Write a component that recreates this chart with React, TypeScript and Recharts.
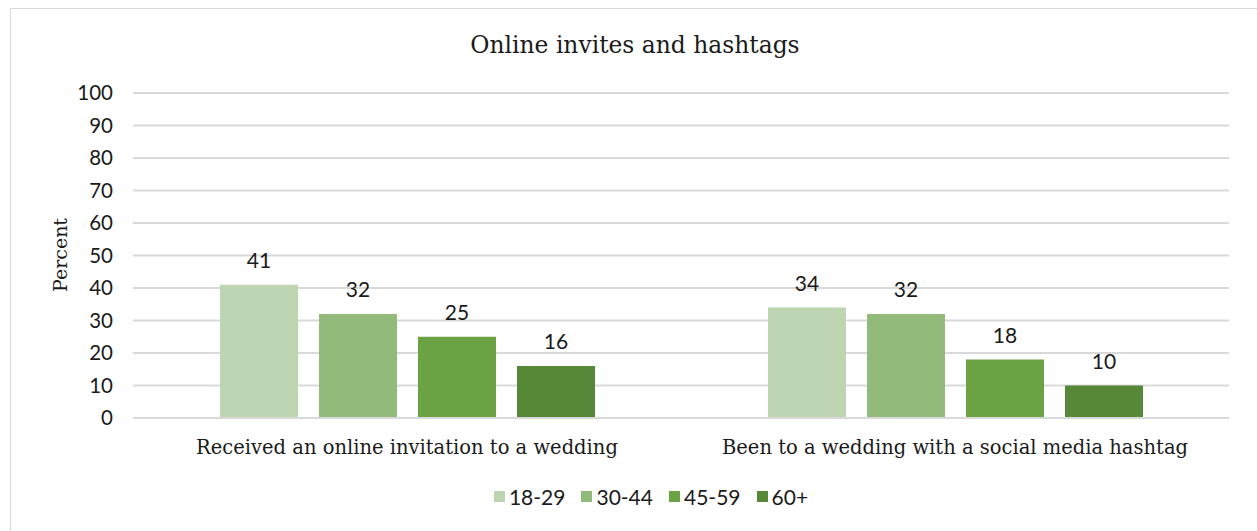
import React from "react";
import { Bar, BarChart, CartesianGrid, LabelList, Legend, XAxis, YAxis } from "recharts";

// categories and series values
const categories = [
	"Received an online invitation to a wedding",
	"Been to a wedding with a social media hashtag",
];
const age18to29 = [41, 34];
const age30to44 = [32, 32];
const age45to59 = [25, 18];
const age60plus = [16, 10];
const yTicks = [0, 10, 20, 30, 40, 50, 60, 70, 80, 90, 100];

const series = [
	{ key: "18-29", values: age18to29, color: "#bdd5b1" },
	{ key: "30-44", values: age30to44, color: "#92bb7b" },
	{ key: "45-59", values: age45to59, color: "#6aa244" },
	{ key: "60+", values: age60plus, color: "#578837" },
];

const data = categories.map((name, i) => {
	const row: Record<string, string | number> = { name };
	for (const s of series) row[s.key] = s.values[i];
	return row;
});

const SANS = "Lato, 'Liberation Sans', sans-serif";
const SLAB = "'DejaVu Serif', serif";
const GRID = "#d9d9d9";

function CategoryTick(props: any) {
	const { x, y, payload } = props;
	return (
		<text x={x} y={y + 21} textAnchor="middle" dominantBaseline="central" fontFamily={SLAB} fontSize={19.5} fill="#1a1a1a">
			{payload.value}
		</text>
	);
}

function LegendContent() {
	return (
		<div style={{ display: "flex", justifyContent: "center", alignItems: "center", height: 30, fontFamily: SANS, fontSize: 21, color: "#1a1a1a" }}>
			{series.map((s, i) => (
				<span key={s.key} style={{ display: "inline-flex", alignItems: "center", marginRight: i < series.length - 1 ? 16 : 0 }}>
					<span style={{ display: "inline-block", width: 11, height: 11, background: s.color, marginRight: 4 }} />
					{s.key}
				</span>
			))}
		</div>
	);
}

export default function App() {
	return (
		<div style={{ position: "fixed", left: 0, top: 0, width: 1257, height: 531, background: "#fff", overflow: "hidden" }}>
			<div style={{ position: "absolute", left: 10, top: 8, width: 1260, height: 540, border: "1px solid #d9d9d9", boxSizing: "border-box" }} />
			<div style={{ position: "absolute", left: 0, top: 30, width: 1270, textAlign: "center", fontFamily: SLAB, fontSize: 23.4, lineHeight: "30px", color: "#1a1a1a" }}>
				Online invites and hashtags
			</div>
			<div
				style={{
					position: "absolute",
					left: 60,
					top: 255,
					transform: "translate(-50%, -50%) rotate(-90deg)",
					fontFamily: SLAB,
					fontSize: 19,
					color: "#1a1a1a",
					whiteSpace: "nowrap",
				}}
			>
				Percent
			</div>
			<div style={{ position: "absolute", left: 0, top: 0 }}>
				<BarChart
					width={1257}
					height={531}
					data={data}
					margin={{ top: 93, right: 28, bottom: 20, left: 73 }}
					barGap={21}
					barSize={78}
				>
					<CartesianGrid stroke={GRID} strokeWidth={2} vertical={false} />
					<XAxis
						dataKey="name"
						height={63}
						axisLine={{ stroke: GRID, strokeWidth: 2 }}
						tickLine={false}
						tick={<CategoryTick />}
						interval={0}
					/>
					<YAxis
						width={60}
						domain={[0, 100]}
						ticks={yTicks}
						interval={0}
						axisLine={false}
						tickLine={false}
						tickMargin={14}
						tick={{ fontFamily: SANS, fontSize: 20.5, fill: "#1a1a1a" }}
					/>
					<Legend verticalAlign="bottom" height={30} content={<LegendContent />} />
					{series.map((s) => (
						<Bar key={s.key} dataKey={s.key} fill={s.color} isAnimationActive={false}>
							<LabelList dataKey={s.key} position="top" offset={17} style={{ fontFamily: SANS, fontSize: 21, fill: "#1a1a1a" }} />
						</Bar>
					))}
				</BarChart>
			</div>
		</div>
	);
}
